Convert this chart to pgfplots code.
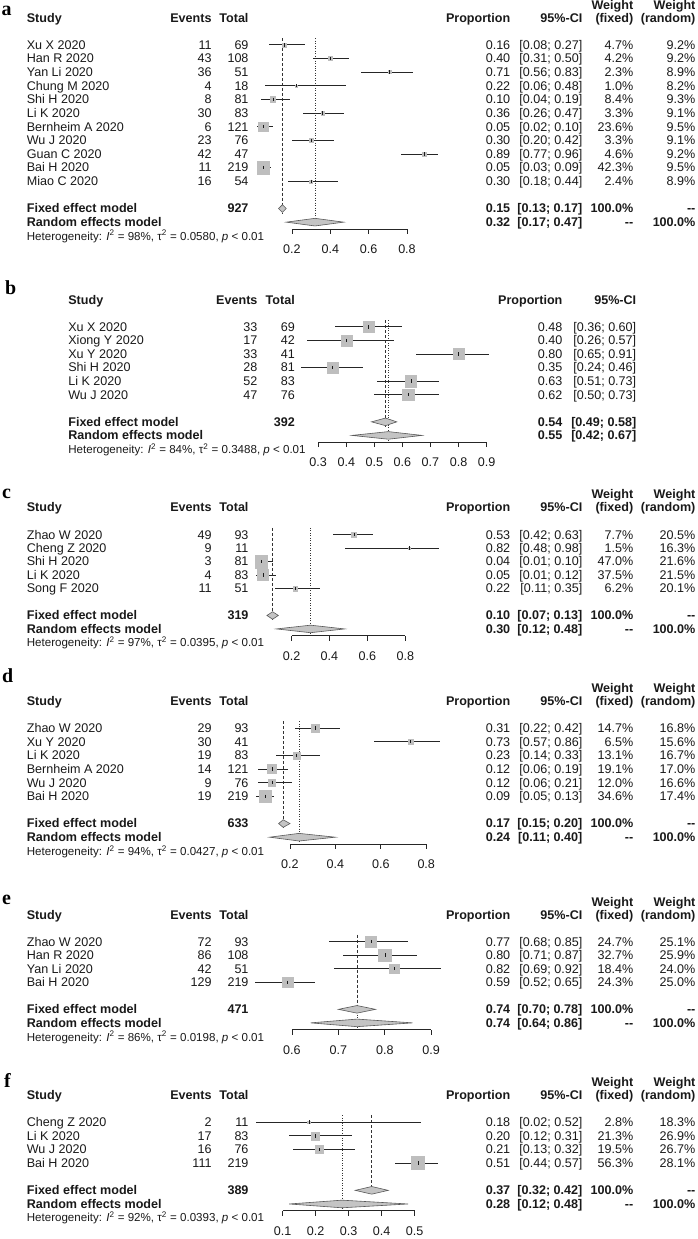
\documentclass[border=0pt]{standalone}
\usepackage{fontspec}
\setmainfont{Liberation Sans}
\newfontfamily\lserif{Liberation Serif}
\usepackage{pgfplots}
\pgfplotsset{compat=1.18}
\usepackage{pgfplotstable}
\definecolor{sqgray}{HTML}{BEBEBE}
\definecolor{dmgray}{HTML}{C4C4C4}
\newcommand\fs{\fontsize{12.6}{14}\selectfont}
\newcommand\fb{\fontsize{12.6}{14}\selectfont\bfseries}
\newcommand\fh{\fontsize{11.6}{13}\selectfont}
\newcommand\flet{\fontsize{20}{20}\selectfont\lserif\bfseries}
\def\bo{4.4}
\tikzset{L/.style={anchor=base west, inner sep=0pt, font=\fs, text=black!90},
         R/.style={anchor=base east, inner sep=0pt, font=\fs, text=black!90}}
% rows for panels a, c, d, e, f
\newcommand\rowA[9][]{%
  \node[L,#1] at (26.7,{-#2-\bo}) {#3};
  \node[R,#1] at (212.3,{-#2-\bo}) {#4};
  \node[R,#1] at (249.3,{-#2-\bo}) {#5};
  \node[R,#1] at (511.7,{-#2-\bo}) {#6};
  \node[R,#1] at (584,{-#2-\bo}) {#7};
  \node[R,#1] at (635,{-#2-\bo}) {#8};
  \node[R,#1] at (697.3,{-#2-\bo}) {#9};}
\newcommand\hdrA[1]{%
  \rowA[font=\fb]{#1}{Study}{Events}{Total}{Proportion}{95\%-CI}{(fixed)}{(random)}
  \node[R,font=\fb] at (635,{-#1+13.3-\bo}) {Weight};
  \node[R,font=\fb] at (697.3,{-#1+13.3-\bo}) {Weight};}
% rows for panel b
\newcommand\rowB[7][]{%
  \node[L,#1] at (68.3,{-#2-\bo}) {#3};
  \node[R,#1] at (258.3,{-#2-\bo}) {#4};
  \node[R,#1] at (295.7,{-#2-\bo}) {#5};
  \node[R,#1] at (564,{-#2-\bo}) {#6};
  \node[R,#1] at (638,{-#2-\bo}) {#7};}
\newcommand\het[4]{\node[L,font=\fh] at (#1,{-#2-4.1}) {Heterogeneity: \textit{I}\textsuperscript{2} = #3\%, τ\textsuperscript{2} = #4, \textit{p} < 0.01};}
\newcommand\dd{-{}-}

\pgfplotsset{forest/.style={
  anchor=north west, scale only axis, clip=false, enlargelimits=false,
  axis x line=bottom, axis y line=none,
  axis line style={-, line width=0.7pt, black!85},
  tick align=outside, major tick length=5pt,
  xtick style={line width=0.7pt, black!85},
  xticklabel style={font=\fs, text=black!90, yshift=-7.5pt},
  ytick=\empty}}
\newcommand\studies[1]{%
  \addplot[scatter, only marks, mark=square*,
    scatter/use mapped color={draw=sqgray, fill=sqgray},
    visualization depends on={\thisrow{sz}\as\sz},
    scatter/@pre marker code/.append style={/tikz/mark size=\sz}]
    table[x=est, y expr=-\thisrow{row}] {#1};
  \addplot[draw=none, mark=none, error bars/.cd, x dir=both, x explicit, error mark=none,
    error bar style={draw=black!85, line width=0.8pt}]
    table[x=est, y expr=-\thisrow{row}, x error plus expr=\thisrow{hi}-\thisrow{est},
          x error minus expr=\thisrow{est}-\thisrow{lo}] {#1};
  \addplot[only marks, mark=|, mark size=1.7, mark options={line width=0.6pt, black!90}]
    table[x=est, y expr=-\thisrow{row}] {#1};}
\newcommand\dmd[6]{\addplot[fill=dmgray, draw=black!65, line width=0.6pt]
  coordinates {(#1,#4) (#2,#5) (#3,#4) (#2,#6)} -- cycle;}
\newcommand\vfix[3]{\addplot[black!80, line width=0.7pt, dash pattern=on 3pt off 2pt] coordinates {(#1,#2) (#1,#3)};}
\newcommand\vran[3]{\addplot[black!80, line width=0.7pt, dash pattern=on 1pt off 1.5pt] coordinates {(#1,#2) (#1,#3)};}

\pgfplotstableread{
row est lo hi sz
1 0.16 0.08 0.27 2.10
2 0.40 0.31 0.50 1.99
3 0.71 0.56 0.83 1.47
4 0.22 0.06 0.48 0.97
5 0.10 0.04 0.19 2.81
6 0.36 0.26 0.47 1.76
7 0.05 0.02 0.10 4.71
8 0.30 0.20 0.42 1.76
9 0.89 0.77 0.96 2.08
10 0.05 0.03 0.09 6.30
11 0.30 0.18 0.44 1.50
}\tabA
\pgfplotstableread{
row est lo hi sz
1 0.48 0.36 0.60 5.4
2 0.40 0.26 0.57 5.5
3 0.80 0.65 0.91 5.6
4 0.35 0.24 0.46 5.5
5 0.63 0.51 0.73 5.8
6 0.62 0.50 0.73 5.9
}\tabB
\pgfplotstableread{
row est lo hi sz
1 0.53 0.42 0.63 2.51
2 0.82 0.48 0.98 1.11
3 0.04 0.01 0.10 6.20
4 0.05 0.01 0.12 5.54
5 0.22 0.11 0.35 2.25
}\tabC
\pgfplotstableread{
row est lo hi sz
1 0.31 0.22 0.42 3.91
2 0.73 0.57 0.86 2.60
3 0.23 0.14 0.33 3.69
4 0.12 0.06 0.19 4.46
5 0.12 0.06 0.21 3.53
6 0.09 0.05 0.13 6.00
}\tabD
\pgfplotstableread{
row est lo hi sz
1 0.77 0.68 0.85 5.48
2 0.80 0.71 0.87 6.30
3 0.82 0.69 0.92 4.73
4 0.59 0.52 0.65 5.43
}\tabE
\pgfplotstableread{
row est lo hi sz
1 0.18 0.02 0.52 1.45
2 0.20 0.12 0.31 4.00
3 0.21 0.13 0.32 3.83
4 0.51 0.44 0.57 6.50
}\tabF

\begin{document}
\begin{tikzpicture}
\begin{scope}[x=1pt,y=1pt]
\path[use as bounding box] (0,0) rectangle (699,-1239);

% ---------------- panel a text ----------------
\node[anchor=base west, inner sep=0pt, font=\flet] at (1.5,-16) {a};
\hdrA{18.3}
\rowA{45.0}{Xu X 2020}{11}{69}{0.16}{[0.08; 0.27]}{4.7\%}{9.2\%}
\rowA{58.7}{Han R 2020}{43}{108}{0.40}{[0.31; 0.50]}{4.2\%}{9.2\%}
\rowA{72.3}{Yan Li 2020}{36}{51}{0.71}{[0.56; 0.83]}{2.3\%}{8.9\%}
\rowA{86.0}{Chung M 2020}{4}{18}{0.22}{[0.06; 0.48]}{1.0\%}{8.2\%}
\rowA{99.7}{Shi H 2020}{8}{81}{0.10}{[0.04; 0.19]}{8.4\%}{9.3\%}
\rowA{113.4}{Li K 2020}{30}{83}{0.36}{[0.26; 0.47]}{3.3\%}{9.1\%}
\rowA{127.0}{Bernheim A 2020}{6}{121}{0.05}{[0.02; 0.10]}{23.6\%}{9.5\%}
\rowA{140.7}{Wu J 2020}{23}{76}{0.30}{[0.20; 0.42]}{3.3\%}{9.1\%}
\rowA{154.4}{Guan C 2020}{42}{47}{0.89}{[0.77; 0.96]}{4.6\%}{9.2\%}
\rowA{168.0}{Bai H 2020}{11}{219}{0.05}{[0.03; 0.09]}{42.3\%}{9.5\%}
\rowA{181.7}{Miao C 2020}{16}{54}{0.30}{[0.18; 0.44]}{2.4\%}{8.9\%}
\rowA[font=\fb]{209.0}{Fixed effect model}{}{927}{0.15}{[0.13; 0.17]}{100.0\%}{\dd}
\rowA[font=\fb]{222.7}{Random effects model}{}{}{0.32}{[0.17; 0.47]}{\dd}{100.0\%}
\het{26.7}{236.7}{98}{0.0580}

% ---------------- panel b text ----------------
\node[anchor=base west, inner sep=0pt, font=\flet] at (5,-295) {b};
\rowB[font=\fb]{301}{Study}{Events}{Total}{Proportion}{95\%-CI}
\rowB{327.7}{Xu X 2020}{33}{69}{0.48}{[0.36; 0.60]}
\rowB{341.3}{Xiong Y 2020}{17}{42}{0.40}{[0.26; 0.57]}
\rowB{354.9}{Xu Y 2020}{33}{41}{0.80}{[0.65; 0.91]}
\rowB{368.5}{Shi H 2020}{28}{81}{0.35}{[0.24; 0.46]}
\rowB{382.1}{Li K 2020}{52}{83}{0.63}{[0.51; 0.73]}
\rowB{395.7}{Wu J 2020}{47}{76}{0.62}{[0.50; 0.73]}
\rowB[font=\fb]{422.9}{Fixed effect model}{}{392}{0.54}{[0.49; 0.58]}
\rowB[font=\fb]{436.5}{Random effects model}{}{}{0.55}{[0.42; 0.67]}
\het{68.3}{450.5}{84}{0.3488}

% ---------------- panel c text ----------------
\node[anchor=base west, inner sep=0pt, font=\flet] at (2,-500) {c};
\hdrA{508.3}
\rowA{536.0}{Zhao W 2020}{49}{93}{0.53}{[0.42; 0.63]}{7.7\%}{20.5\%}
\rowA{549.5}{Cheng Z 2020}{9}{11}{0.82}{[0.48; 0.98]}{1.5\%}{16.3\%}
\rowA{563.0}{Shi H 2020}{3}{81}{0.04}{[0.01; 0.10]}{47.0\%}{21.6\%}
\rowA{576.5}{Li K 2020}{4}{83}{0.05}{[0.01; 0.12]}{37.5\%}{21.5\%}
\rowA{590.0}{Song F 2020}{11}{51}{0.22}{[0.11; 0.35]}{6.2\%}{20.1\%}
\rowA[font=\fb]{617.0}{Fixed effect model}{}{319}{0.10}{[0.07; 0.13]}{100.0\%}{\dd}
\rowA[font=\fb]{630.5}{Random effects model}{}{}{0.30}{[0.12; 0.48]}{\dd}{100.0\%}
\het{26.7}{644.5}{97}{0.0395}

% ---------------- panel d text ----------------
\node[anchor=base west, inner sep=0pt, font=\flet] at (2,-684) {d};
\hdrA{702.7}
\rowA{730.0}{Zhao W 2020}{29}{93}{0.31}{[0.22; 0.42]}{14.7\%}{16.8\%}
\rowA{743.6}{Xu Y 2020}{30}{41}{0.73}{[0.57; 0.86]}{6.5\%}{15.6\%}
\rowA{757.3}{Li K 2020}{19}{83}{0.23}{[0.14; 0.33]}{13.1\%}{16.7\%}
\rowA{770.9}{Bernheim A 2020}{14}{121}{0.12}{[0.06; 0.19]}{19.1\%}{17.0\%}
\rowA{784.6}{Wu J 2020}{9}{76}{0.12}{[0.06; 0.21]}{12.0\%}{16.6\%}
\rowA{798.3}{Bai H 2020}{19}{219}{0.09}{[0.05; 0.13]}{34.6\%}{17.4\%}
\rowA[font=\fb]{825.6}{Fixed effect model}{}{633}{0.17}{[0.15; 0.20]}{100.0\%}{\dd}
\rowA[font=\fb]{839.2}{Random effects model}{}{}{0.24}{[0.11; 0.40]}{\dd}{100.0\%}
\het{26.7}{853.5}{94}{0.0427}

% ---------------- panel e text ----------------
\node[anchor=base west, inner sep=0pt, font=\flet] at (2,-906.7) {e};
\hdrA{917.3}
\rowA{944.0}{Zhao W 2020}{72}{93}{0.77}{[0.68; 0.85]}{24.7\%}{25.1\%}
\rowA{957.5}{Han R 2020}{86}{108}{0.80}{[0.71; 0.87]}{32.7\%}{25.9\%}
\rowA{971.1}{Yan Li 2020}{42}{51}{0.82}{[0.69; 0.92]}{18.4\%}{24.0\%}
\rowA{984.7}{Bai H 2020}{129}{219}{0.59}{[0.52; 0.65]}{24.3\%}{25.0\%}
\rowA[font=\fb]{1011.8}{Fixed effect model}{}{471}{0.74}{[0.70; 0.78]}{100.0\%}{\dd}
\rowA[font=\fb]{1025.4}{Random effects model}{}{}{0.74}{[0.64; 0.86]}{\dd}{100.0\%}
\het{26.7}{1039.6}{86}{0.0198}

% ---------------- panel f text ----------------
\node[anchor=base west, inner sep=0pt, font=\flet] at (4,-1090) {f};
\hdrA{1098.3}
\rowA{1125.0}{Cheng Z 2020}{2}{11}{0.18}{[0.02; 0.52]}{2.8\%}{18.3\%}
\rowA{1138.6}{Li K 2020}{17}{83}{0.20}{[0.12; 0.31]}{21.3\%}{26.9\%}
\rowA{1152.3}{Wu J 2020}{16}{76}{0.21}{[0.13; 0.32]}{19.5\%}{26.7\%}
\rowA{1166.0}{Bai H 2020}{111}{219}{0.51}{[0.44; 0.57]}{56.3\%}{28.1\%}
\rowA[font=\fb]{1193.3}{Fixed effect model}{}{389}{0.37}{[0.32; 0.42]}{100.0\%}{\dd}
\rowA[font=\fb]{1207.0}{Random effects model}{}{}{0.28}{[0.12; 0.48]}{\dd}{100.0\%}
\het{26.7}{1220.5}{92}{0.0393}
\end{scope}

% ---------------- forest axes ----------------
\begin{axis}[forest, at={(292.7pt,-31.33pt)}, width=115.3pt, height=198.2pt,
  xmin=0.2, xmax=0.8, ymin=-14.5, ymax=0,
  xtick={0.2,0.4,0.6,0.8}, xticklabels={0.2,0.4,0.6,0.8}]
\vfix{0.15}{-0.5}{-13.35}
\vran{0.32}{-0.5}{-14.35}
\studies{\tabA}
\dmd{0.13}{0.15}{0.17}{-13}{-12.72}{-13.28}
\dmd{0.17}{0.32}{0.47}{-14}{-13.72}{-14.28}
\end{axis}

\begin{axis}[forest, at={(319pt,-314.1pt)}, width=168.8pt, height=129.2pt,
  xmin=0.3, xmax=0.9, ymin=-9.5, ymax=0,
  xtick={0.3,0.4,0.5,0.6,0.7,0.8,0.9}, xticklabels={0.3,0.4,0.5,0.6,0.7,0.8,0.9}]
\vfix{0.54}{-0.5}{-8.35}
\vran{0.55}{-0.5}{-9.35}
\studies{\tabB}
\dmd{0.49}{0.54}{0.58}{-8}{-7.72}{-8.28}
\dmd{0.42}{0.55}{0.67}{-9}{-8.72}{-9.28}
\end{axis}

\begin{axis}[forest, at={(292.3pt,-522.5pt)}, width=114pt, height=114.75pt,
  xmin=0.2, xmax=0.8, ymin=-8.5, ymax=0,
  xtick={0.2,0.4,0.6,0.8}, xticklabels={0.2,0.4,0.6,0.8}]
\vfix{0.10}{-0.5}{-7.35}
\vran{0.30}{-0.5}{-8.35}
\studies{\tabC}
\dmd{0.07}{0.10}{0.13}{-7}{-6.72}{-7.28}
\dmd{0.12}{0.30}{0.48}{-8}{-7.72}{-8.28}
\end{axis}

\begin{axis}[forest, at={(290.7pt,-716.3pt)}, width=136.6pt, height=129.8pt,
  xmin=0.2, xmax=0.8, ymin=-9.5, ymax=0,
  xtick={0.2,0.4,0.6,0.8}, xticklabels={0.2,0.4,0.6,0.8}]
\vfix{0.17}{-0.5}{-8.35}
\vran{0.24}{-0.5}{-9.35}
\studies{\tabD}
\dmd{0.15}{0.17}{0.20}{-8}{-7.72}{-8.28}
\dmd{0.11}{0.24}{0.40}{-9}{-8.72}{-9.28}
\end{axis}

\begin{axis}[forest, at={(292.7pt,-930.4pt)}, width=139.6pt, height=101.8pt,
  xmin=0.6, xmax=0.9, ymin=-7.5, ymax=0,
  xtick={0.6,0.7,0.8,0.9}, xticklabels={0.6,0.7,0.8,0.9}]
\vfix{0.74}{-0.5}{-6.35}
\vran{0.74}{-0.5}{-7.35}
\studies{\tabE}
\dmd{0.70}{0.74}{0.78}{-6}{-5.72}{-6.28}
\dmd{0.64}{0.74}{0.86}{-7}{-6.72}{-7.28}
\end{axis}

\begin{axis}[forest, at={(283.3pt,-1111.3pt)}, width=132.4pt, height=102.5pt,
  xmin=0.1, xmax=0.5, ymin=-7.5, ymax=0,
  xtick={0.1,0.2,0.3,0.4,0.5}, xticklabels={0.1,0.2,0.3,0.4,0.5}]
\vfix{0.37}{-0.5}{-6.35}
\vran{0.28}{-0.5}{-7.35}
\studies{\tabF}
\dmd{0.32}{0.37}{0.42}{-6}{-5.72}{-6.28}
\dmd{0.12}{0.28}{0.48}{-7}{-6.72}{-7.28}
\end{axis}
\end{tikzpicture}
\end{document}
